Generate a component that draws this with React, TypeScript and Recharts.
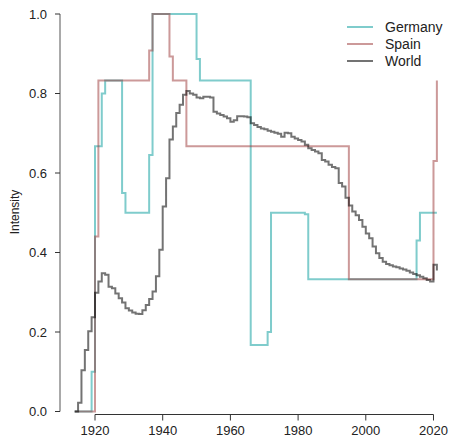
import React from 'react';
import { LineChart, Line, XAxis, YAxis, ReferenceLine } from 'recharts';

const years = [
  1914, 1915, 1916, 1917, 1918, 1919, 1920, 1921, 1922, 1923,
  1924, 1925, 1926, 1927, 1928, 1929, 1930, 1931, 1932, 1933,
  1934, 1935, 1936, 1937, 1938, 1939, 1940, 1941, 1942, 1943,
  1944, 1945, 1946, 1947, 1948, 1949, 1950, 1951, 1952, 1953,
  1954, 1955, 1956, 1957, 1958, 1959, 1960, 1961, 1962, 1963,
  1964, 1965, 1966, 1967, 1968, 1969, 1970, 1971, 1972, 1973,
  1974, 1975, 1976, 1977, 1978, 1979, 1980, 1981, 1982, 1983,
  1984, 1985, 1986, 1987, 1988, 1989, 1990, 1991, 1992, 1993,
  1994, 1995, 1996, 1997, 1998, 1999, 2000, 2001, 2002, 2003,
  2004, 2005, 2006, 2007, 2008, 2009, 2010, 2011, 2012, 2013,
  2014, 2015, 2016, 2017, 2018, 2019, 2020, 2021,
];

const germany = [
  0, 0, 0, 0, 0, 0.1, 0.667, 0.667, 0.8, 0.833,
  0.833, 0.833, 0.833, 0.833, 0.55, 0.5, 0.5, 0.5, 0.5, 0.5,
  0.5, 0.5, 0.645, 1, 1, 1, 1, 1, 1, 1,
  1, 1, 1, 1, 1, 1, 0.887, 0.833, 0.833, 0.833,
  0.833, 0.833, 0.833, 0.833, 0.833, 0.833, 0.833, 0.833, 0.833, 0.833,
  0.833, 0.833, 0.167, 0.167, 0.167, 0.167, 0.167, 0.2, 0.5, 0.5,
  0.5, 0.5, 0.5, 0.5, 0.5, 0.5, 0.5, 0.5, 0.496, 0.333,
  0.333, 0.333, 0.333, 0.333, 0.333, 0.333, 0.333, 0.333, 0.333, 0.333,
  0.333, 0.333, 0.333, 0.333, 0.333, 0.333, 0.333, 0.333, 0.333, 0.333,
  0.333, 0.333, 0.333, 0.333, 0.333, 0.333, 0.333, 0.333, 0.333, 0.333,
  0.333, 0.43, 0.5, 0.5, 0.5, 0.5, 0.5, 0.5,
];

const spain = [
  0, 0, 0, 0, 0, 0, 0.44, 0.833, 0.833, 0.833,
  0.833, 0.833, 0.833, 0.833, 0.833, 0.833, 0.833, 0.833, 0.833, 0.833,
  0.833, 0.833, 0.908, 1, 1, 1, 1, 1, 0.893, 0.833,
  0.833, 0.833, 0.833, 0.667, 0.667, 0.667, 0.667, 0.667, 0.667, 0.667,
  0.667, 0.667, 0.667, 0.667, 0.667, 0.667, 0.667, 0.667, 0.667, 0.667,
  0.667, 0.667, 0.667, 0.667, 0.667, 0.667, 0.667, 0.667, 0.667, 0.667,
  0.667, 0.667, 0.667, 0.667, 0.667, 0.667, 0.667, 0.667, 0.667, 0.667,
  0.667, 0.667, 0.667, 0.667, 0.667, 0.667, 0.667, 0.667, 0.667, 0.667,
  0.667, 0.333, 0.333, 0.333, 0.333, 0.333, 0.333, 0.333, 0.333, 0.333,
  0.333, 0.333, 0.333, 0.333, 0.333, 0.333, 0.333, 0.333, 0.333, 0.333,
  0.333, 0.333, 0.333, 0.333, 0.333, 0.333, 0.63, 0.833,
];

const world = [
  0, 0.022, 0.104, 0.155, 0.202, 0.237, 0.299, 0.327, 0.348, 0.344,
  0.314, 0.31, 0.297, 0.285, 0.274, 0.26, 0.254, 0.249, 0.246, 0.245,
  0.255, 0.268, 0.283, 0.302, 0.34, 0.407, 0.516, 0.587, 0.684, 0.717,
  0.751, 0.772, 0.797, 0.806, 0.8, 0.797, 0.79, 0.788, 0.792, 0.792,
  0.79, 0.754, 0.75, 0.746, 0.742, 0.738, 0.729, 0.733, 0.743, 0.743,
  0.742, 0.74, 0.725, 0.721, 0.716, 0.712, 0.71, 0.706, 0.704, 0.701,
  0.699, 0.691, 0.701, 0.7, 0.691, 0.687, 0.683, 0.679, 0.671, 0.662,
  0.658, 0.654, 0.65, 0.633, 0.629, 0.621, 0.615, 0.612, 0.575, 0.566,
  0.538, 0.518, 0.503, 0.494, 0.482, 0.465, 0.448, 0.436, 0.415, 0.398,
  0.386, 0.377, 0.371, 0.368, 0.365, 0.363, 0.36, 0.357, 0.354, 0.35,
  0.346, 0.343, 0.339, 0.335, 0.331, 0.327, 0.369, 0.355,
];

const xTicks = [1920, 1940, 1960, 1980, 2000, 2020];
const yTicks = [0, 0.2, 0.4, 0.6, 0.8, 1];
const seriesNames = ['Germany', 'Spain', 'World'];

const data = years.map((year, i) => ({
  year,
  Germany: germany[i],
  Spain: spain[i],
  World: world[i],
}));

const FONT = '"Liberation Sans", Arial, Helvetica, sans-serif';
const colors: Record<string, string> = { Germany: '#009999', Spain: '#993333', World: '#000000' };
const opac: Record<string, number> = { Germany: 0.5, Spain: 0.5, World: 0.55 };

const X_DOMAIN: [number, number] = [1909.66, 2023.4];
const Y_DOMAIN: [number, number] = [-0.007547, 1.010063];

export default function App() {
  return (
    <div style={{ position: 'absolute', left: 0, top: 0, width: 449, height: 440, background: '#fff' }}>
      <LineChart width={449} height={440} data={data} margin={{ top: 10, right: 4, bottom: 0, left: 0 }}>
        <XAxis
          type="number"
          dataKey="year"
          domain={X_DOMAIN}
          ticks={xTicks}
          interval={0}
          axisLine={false}
          tickLine={{ stroke: '#333', strokeWidth: 1 }}
          tickSize={6}
          tickMargin={5}
          height={25.5}
          tick={{ fill: '#222', fontSize: 13, fontFamily: FONT }}
        />
        <YAxis
          type="number"
          domain={Y_DOMAIN}
          ticks={yTicks}
          interval={0}
          width={60}
          axisLine={false}
          tickLine={{ stroke: '#333', strokeWidth: 1 }}
          tickSize={5}
          tickMargin={8}
          tickFormatter={(v: number) => v.toFixed(1)}
          tick={{ fill: '#222', fontSize: 13, fontFamily: FONT }}
        />
        <ReferenceLine
          segment={[{ x: 1920, y: Y_DOMAIN[0] }, { x: 2020, y: Y_DOMAIN[0] }]}
          stroke="#333"
          strokeWidth={1}
          ifOverflow="visible"
        />
        <ReferenceLine
          segment={[{ x: X_DOMAIN[0], y: 0 }, { x: X_DOMAIN[0], y: 1 }]}
          stroke="#555"
          strokeWidth={1}
          ifOverflow="visible"
        />
        {seriesNames.map((n) => (
          <Line
            key={n}
            type="stepAfter"
            dataKey={n}
            stroke={colors[n]}
            strokeOpacity={opac[n]}
            strokeWidth={2}
            dot={false}
            activeDot={false}
            isAnimationActive={false}
          />
        ))}
      </LineChart>
      <svg
        width={449}
        height={440}
        style={{ position: 'absolute', left: 0, top: 0, pointerEvents: 'none' }}
      >
        <text
          x={15}
          y={212}
          transform="rotate(-90 15 212)"
          textAnchor="middle"
          dominantBaseline="central"
          fontSize={12}
          fontFamily={FONT}
          fill="#222"
        >
          Intensity
        </text>
        {seriesNames.map((n, i) => (
          <g key={n}>
            <line
              x1={347}
              x2={373}
              y1={27 + i * 17}
              y2={27 + i * 17}
              stroke={colors[n]}
              strokeOpacity={opac[n]}
              strokeWidth={2}
            />
            <text
              x={385}
              y={27 + i * 17}
              dominantBaseline="central"
              fontSize={14}
              fontFamily={FONT}
              fill="#222"
            >
              {n}
            </text>
          </g>
        ))}
      </svg>
    </div>
  );
}
